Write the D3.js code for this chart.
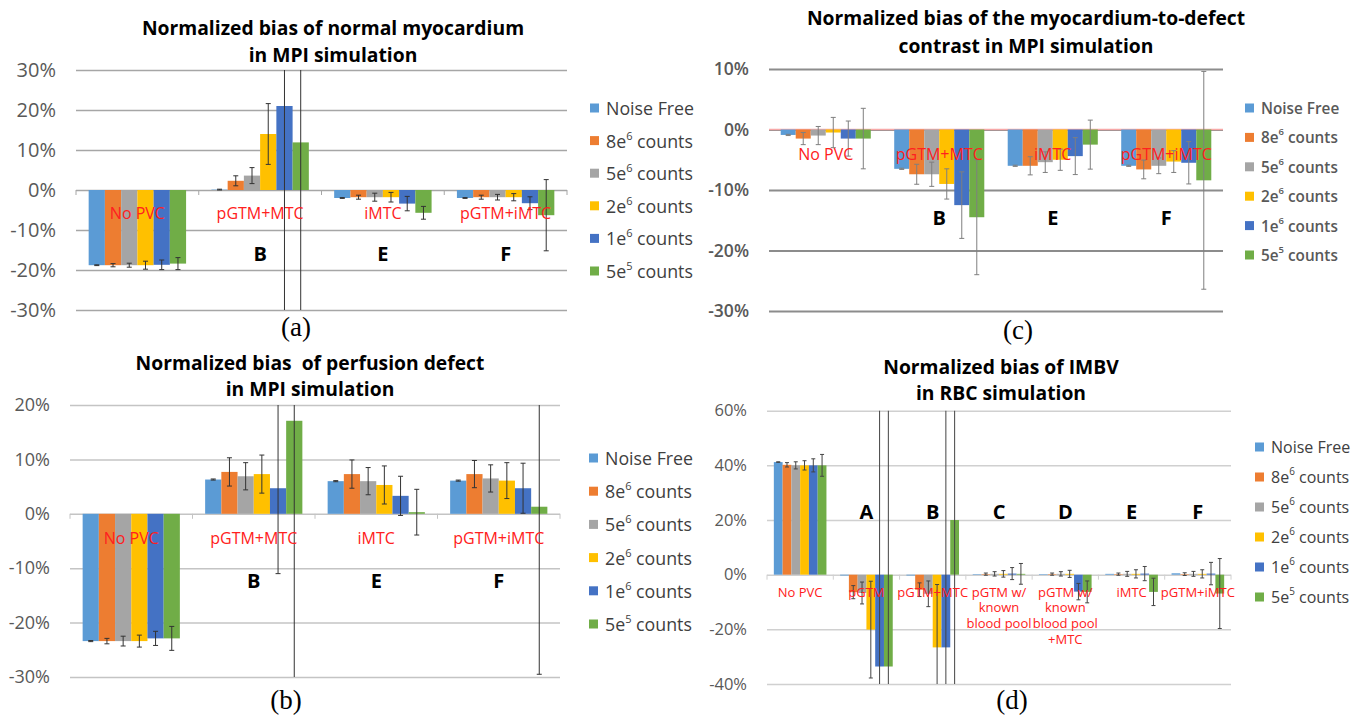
<!DOCTYPE html>
<html>
<head>
<meta charset="utf-8">
<script src="https://cdn.jsdelivr.net/npm/d3@7"></script>
<style>
body { margin: 0; background: #fff; }
svg { display: block; font-family: "Open Sans", "Noto Sans", sans-serif; }
</style>
</head>
<body>
<div id="chart"></div>
<script>
'use strict'

// Series shared by all four panels (legend text = base + superscript + rest)
var seriesBase = ["Noise Free", "8e", "5e", "2e", "1e", "5e"]
var seriesSup  = ["", "6", "6", "6", "6", "5"]
var seriesRest = ["", " counts", " counts", " counts", " counts", " counts"]
var colors = ["#5B9BD5", "#ED7D31", "#A5A5A5", "#FFC000", "#4472C4", "#70AD47"]

// (a) normal myocardium, values in %, one row per category, one entry per series
var catsA = ["No PVC", "pGTM+MTC", "iMTC", "pGTM+iMTC"]
var lettersA = ["", "B", "E", "F"]
var valuesA = [
  [-18.8, -18.8, -18.8, -18.8, -18.7, -18.4],
  [0.1, 2.3, 3.6, 14.0, 21.0, 11.9],
  [-2.0, -1.8, -1.8, -1.8, -3.4, -5.7],
  [-2.0, -1.8, -1.8, -1.8, -3.3, -6.3]
]
var errorsA = [
  [0.1, 0.4, 0.5, 1.0, 1.2, 1.5],
  [0.1, 1.25, 2.0, 7.6, 60, 60],
  [0.1, 0.5, 1.0, 1.2, 1.8, 1.6],
  [0.1, 0.5, 0.7, 0.9, 1.6, 8.9]
]
var ticksA = [-30, -20, -10, 0, 10, 20, 30]

// (b) perfusion defect
var catsB = ["No PVC", "pGTM+MTC", "iMTC", "pGTM+iMTC"]
var lettersB = ["", "B", "E", "F"]
var valuesB = [
  [-23.4, -23.4, -23.4, -23.4, -22.9, -22.9],
  [6.3, 7.7, 6.9, 7.3, 4.7, 17.1],
  [6.0, 7.3, 6.0, 5.3, 3.3, 0.3],
  [6.1, 7.3, 6.5, 6.1, 4.7, 1.3]
]
var errorsB = [
  [0.1, 0.5, 0.9, 1.1, 1.3, 2.2],
  [0.1, 2.6, 2.5, 3.5, 15.7, 60],
  [0.1, 2.6, 2.5, 3.5, 3.6, 4.2],
  [0.1, 2.5, 2.5, 3.3, 4.6, 30.8]
]
var ticksB = [-30, -20, -10, 0, 10, 20]

// (c) myocardium-to-defect contrast
var catsC = ["No PVC", "pGTM+MTC", "iMTC", "pGTM+iMTC"]
var lettersC = ["", "B", "E", "F"]
var valuesC = [
  [-0.9, -1.5, -1.0, -0.5, -1.5, -1.5],
  [-6.5, -7.4, -7.4, -9.0, -12.5, -14.5],
  [-6.0, -6.0, -5.4, -5.0, -4.4, -2.5],
  [-6.0, -6.6, -6.0, -5.3, -5.5, -8.4]
]
var errorsC = [
  [0.1, 1.0, 1.5, 2.5, 2.9, 5.0],
  [0.1, 1.65, 2.0, 2.5, 5.5, 9.5],
  [0.1, 1.5, 1.7, 1.75, 3.05, 4.05],
  [0.1, 1.55, 1.3, 1.8, 3.5, 18.0]
]
var ticksC = [-30, -20, -10, 0, 10]

// (d) IMBV in RBC simulation
var catsD = ["No PVC", "pGTM", "pGTM+MTC", "pGTM w/\nknown\nblood pool", "pGTM w/\nknown\nblood pool\n+MTC", "iMTC", "pGTM+iMTC"]
var lettersD = ["", "A", "B", "C", "D", "E", "F"]
var valuesD = [
  [41.2, 40.2, 40.0, 40.0, 40.0, 40.0],
  [-0.3, -6.4, -6.7, -20.1, -33.6, -33.6],
  [-0.3, -5.5, -7.0, -26.6, -26.6, 20.0],
  [0.2, 0.2, 0.3, 0.3, 0.4, 0.3],
  [0.2, 0.2, 0.3, 0.3, -6.2, -6.3],
  [0.3, 0.2, 0.3, 0.3, 0.4, -6.3],
  [0.5, 0.2, 0.3, 0.3, 0.4, -6.9]
]
var errorsD = [
  [0.1, 0.8, 1.3, 1.7, 2.4, 4.0],
  [0, 2.4, 4.0, 17.7, 99, 99],
  [0, 2.5, 4.7, 23, 99, 99],
  [0, 0.4, 0.8, 1.2, 2.2, 3.8],
  [0, 0.4, 0.8, 1.3, 3.0, 4.0],
  [0, 0.4, 0.9, 1.5, 2.6, 5.0],
  [0, 0.5, 0.9, 1.5, 4.1, 12.8]
]
var ticksD = [-40, -20, 0, 20, 40, 60]

var width = 1365
var height = 719

const svg = d3.select("#chart")
              .append("svg")
              .attr("width", width)
              .attr("height", height)

// layout of each panel (pixels)
var panels = [
  {id: "a", title: ["Normalized bias of normal myocardium", "in MPI simulation"], titleX: 333, titleY: [27, 54],
   cats: catsA, letters: lettersA, values: valuesA, errors: errorsA, ticks: ticksA,
   x0: 76, x1: 567, yTop: 70, yBot: 310, catFont: 16, catDy: 23, letterY: 253,
   legendX: 590, legendY: 108, legendDy: 32.6, legendFont: 17.8, grid: "#a6a6a6", gridW: 1.5, axis: null,
   err: "#333", cap: 5, sub: [296, 327], tickFont: 20, tickWeight: 400},
  {id: "b", title: ["Normalized bias  of perfusion defect", "in MPI simulation"], titleX: 310, titleY: [362, 388],
   cats: catsB, letters: lettersB, values: valuesB, errors: errorsB, ticks: ticksB,
   x0: 70, x1: 560, yTop: 405, yBot: 677, catFont: 16, catDy: 24, letterY: 580,
   legendX: 589, legendY: 458, legendDy: 33.2, legendFont: 17.8, grid: "#c4c4c4", gridW: 1.5, axis: null,
   err: "#333", cap: 5, sub: [286, 700], tickFont: 18, tickWeight: 400},
  {id: "c", title: ["Normalized bias of the myocardium-to-defect", "contrast in MPI simulation"], titleX: 1026, titleY: [17, 45],
   cats: catsC, letters: lettersC, values: valuesC, errors: errorsC, ticks: ticksC,
   x0: 769, x1: 1223, yTop: 69, yBot: 311, catFont: 16, catDy: 24, letterY: 217,
   legendX: 1245, legendY: 108, legendDy: 29.4, legendFont: 15.3, grid: "#8c8c8c", gridW: 2.2, axis: "#f7a8a8",
   err: "#7f7f7f", cap: 5, sub: [1018, 330], tickFont: 17.5, tickWeight: 600},
  {id: "d", title: ["Normalized bias of IMBV", "in RBC simulation"], titleX: 1001, titleY: [366, 392],
   cats: catsD, letters: lettersD, values: valuesD, errors: errorsD, ticks: ticksD,
   x0: 767, x1: 1231, yTop: 410.7, yBot: 684, catFont: 13, catDy: 17, catLine: 15.7, letterY: 511,
   legendX: 1255, legendY: 447, legendDy: 30, legendFont: 16, grid: "#d0d0d0", gridW: 1.5, axis: null,
   err: "#444", cap: 4, sub: [1012, 700], tickFont: 16.5, tickWeight: 400}
]

panels.forEach(drawPanel)

function drawPanel(p) {
  var g = svg.append("g").attr("id", "panel-" + p.id)

  var xScale = d3.scaleBand()
                 .domain(d3.range(p.cats.length))
                 .range([p.x0, p.x1])
  var inner = d3.scaleBand()
                .domain(d3.range(colors.length))
                .range([0, xScale.bandwidth()])
                .paddingOuter(0.78)
  var yScale = d3.scaleLinear()
                 .domain([d3.min(p.ticks), d3.max(p.ticks)])
                 .range([p.yBot, p.yTop])

  // gridlines + tick labels
  var yAxis = d3.axisLeft(yScale)
                .tickValues(p.ticks)
                .tickSize(-(p.x1 - p.x0))
                .tickPadding(20)
                .tickFormat((d) => d + "%")
  var ax = g.append("g")
            .attr("transform", "translate(" + p.x0 + ",0)")
            .call(yAxis)
  ax.select(".domain").remove()
  ax.selectAll("line").attr("stroke", p.grid).attr("stroke-width", p.gridW)
  ax.selectAll("text")
    .attr("fill", "#595959")
    .style("font-size", p.tickFont + "px")
    .style("font-weight", p.tickWeight)
    .style("font-family", "'Open Sans', sans-serif")

  // horizontal axis at zero
  if (p.axis) {
    g.append("line")
     .attr("x1", p.x0).attr("x2", p.x1)
     .attr("y1", yScale(0)).attr("y2", yScale(0))
     .attr("stroke", p.axis).attr("stroke-width", 1.5)
  } else {
    var bounds = d3.range(p.cats.length).map((i) => xScale(i)).concat([p.x1])
    g.selectAll(".cattick")
     .data(bounds)
     .enter()
     .append("line")
     .attr("x1", (d) => d).attr("x2", (d) => d)
     .attr("y1", yScale(0)).attr("y2", yScale(0) + 5)
     .attr("stroke", p.grid).attr("stroke-width", 1)
  }

  // bars
  var flat = []
  p.values.forEach(function(row, c) {
    row.forEach(function(v, s) {
      flat.push({c: c, s: s, v: v, e: p.errors[c][s]})
    })
  })

  g.selectAll(".bar")
   .data(flat)
   .enter()
   .append("rect")
   .attr("class", "bar")
   .attr("x", (d) => xScale(d.c) + inner(d.s))
   .attr("width", inner.bandwidth())
   .attr("y", (d) => yScale(Math.max(0, d.v)))
   .attr("height", (d) => Math.abs(yScale(d.v) - yScale(0)))
   .attr("fill", (d) => colors[d.s])

  // error bars, clipped to plot area
  g.append("clipPath")
   .attr("id", "clip-" + p.id)
   .append("rect")
   .attr("x", p.x0 - 10).attr("y", p.yTop)
   .attr("width", p.x1 - p.x0 + 20).attr("height", p.yBot - p.yTop)

  var eg = g.append("g").attr("clip-path", "url(#clip-" + p.id + ")")
  var withErr = flat.filter((d) => d.e > 0)
  var cx = (d) => xScale(d.c) + inner(d.s) + inner.bandwidth() / 2

  eg.selectAll(".errline")
    .data(withErr)
    .enter()
    .append("line")
    .attr("x1", cx).attr("x2", cx)
    .attr("y1", (d) => yScale(d.v + d.e))
    .attr("y2", (d) => yScale(d.v - d.e))
    .attr("stroke", p.err).attr("stroke-width", 1)

  ;[1, -1].forEach(function(sign) {
    eg.selectAll(".cap" + sign)
      .data(withErr)
      .enter()
      .append("line")
      .attr("x1", (d) => cx(d) - p.cap / 2).attr("x2", (d) => cx(d) + p.cap / 2)
      .attr("y1", (d) => yScale(d.v + sign * d.e))
      .attr("y2", (d) => yScale(d.v + sign * d.e))
      .attr("stroke", p.err).attr("stroke-width", 1)
  })

  // red method labels just under the zero line
  var lineH = p.catLine || 16
  g.selectAll(".catlabel")
   .data(p.cats)
   .enter()
   .append("text")
   .attr("class", "catlabel")
   .attr("text-anchor", "middle")
   .attr("fill", "#ff2020")
   .style("font-size", p.catFont + "px")
   .each(function(d, i) {
     var t = d3.select(this)
     d.split("\n").forEach(function(line, k) {
       t.append("tspan")
        .attr("x", xScale(i) + xScale.bandwidth() / 2)
        .attr("y", yScale(0) + p.catDy + k * lineH)
        .attr("dominant-baseline", "central")
        .text(line)
     })
   })

  // bold case letters
  g.selectAll(".letter")
   .data(p.letters)
   .enter()
   .append("text")
   .attr("x", (d, i) => xScale(i) + xScale.bandwidth() / 2)
   .attr("y", p.letterY)
   .attr("text-anchor", "middle")
   .attr("dominant-baseline", "central")
   .style("font-size", "20px")
   .style("font-weight", "700")
   .text((d) => d)

  // title
  g.selectAll(".title")
   .data(p.title)
   .enter()
   .append("text")
   .attr("x", p.titleX)
   .attr("y", (d, i) => p.titleY[i])
   .attr("text-anchor", "middle")
   .attr("dominant-baseline", "central")
   .style("font-size", "19.3px")
   .style("font-weight", "700")
   .style("white-space", "pre")
   .text((d) => d)

  // legend
  var lg = g.selectAll(".legend")
            .data(seriesBase)
            .enter()
            .append("g")
            .attr("transform", (d, i) => "translate(" + p.legendX + "," + (p.legendY + i * p.legendDy) + ")")
  lg.append("rect")
    .attr("x", 0).attr("y", -4.5)
    .attr("width", 9).attr("height", 9)
    .attr("fill", (d, i) => colors[i])
  var lt = lg.append("text")
             .attr("x", 16)
             .attr("y", 0)
             .attr("dominant-baseline", "central")
             .attr("fill", p.id == "c" ? "#595959" : "#404040")
             .style("font-size", p.legendFont + "px")
             .style("font-weight", p.id == "c" ? 600 : 400)
  lt.append("tspan").text((d) => d)
  lt.append("tspan")
    .attr("dy", -6)
    .style("font-size", (p.legendFont * 0.62) + "px")
    .text((d, i) => seriesSup[i])
  lt.append("tspan")
    .attr("dy", 6)
    .text((d, i) => seriesRest[i])

  // sub-figure label
  g.append("text")
   .attr("x", p.sub[0])
   .attr("y", p.sub[1])
   .attr("text-anchor", "middle")
   .attr("dominant-baseline", "central")
   .style("font-family", "'Liberation Serif', serif")
   .style("font-size", "27px")
   .text("(" + p.id + ")")
}
</script>
</body>
</html>
